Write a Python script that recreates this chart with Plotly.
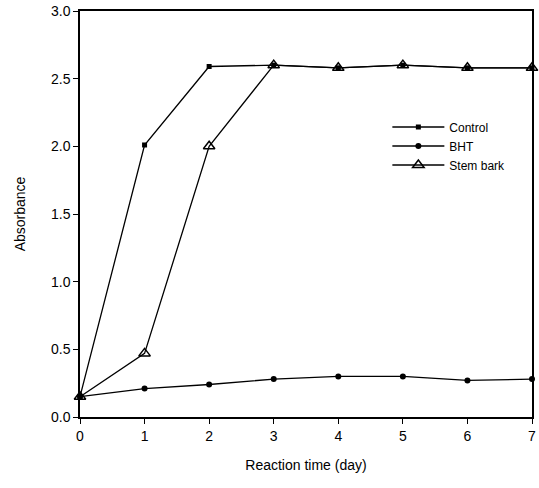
import plotly.graph_objects as go

days = [0, 1, 2, 3, 4, 5, 6, 7]
control = [0.15, 2.01, 2.59, 2.60, 2.58, 2.60, 2.58, 2.58]
bht = [0.15, 0.21, 0.24, 0.28, 0.30, 0.30, 0.27, 0.28]
stem_bark = [0.15, 0.47, 2.0, 2.60, 2.58, 2.60, 2.58, 2.58]

fig = go.Figure()
fig.add_trace(go.Scatter(x=days, y=bht, name="BHT", mode="lines+markers",
                         line=dict(color="black", width=1.3),
                         marker=dict(symbol="circle", size=6, color="black"),
                         cliponaxis=False, legendrank=2))
fig.add_trace(go.Scatter(x=days, y=control, name="Control", mode="lines+markers",
                         line=dict(color="black", width=1.3),
                         marker=dict(symbol="square", size=5, color="black"),
                         cliponaxis=False, legendrank=1))
fig.add_trace(go.Scatter(x=days, y=stem_bark, name="Stem bark", mode="lines+markers",
                         line=dict(color="black", width=1.3),
                         marker=dict(symbol="triangle-up-open", size=10, color="black",
                                     line=dict(width=1.5)),
                         cliponaxis=False, legendrank=3))

fig.update_layout(
    width=539, height=488,
    margin=dict(l=80, r=3, t=11, b=71),
    paper_bgcolor="white", plot_bgcolor="white",
    font=dict(family="Liberation Sans, Arial, sans-serif", size=14, color="black"),
    showlegend=True,
    legend=dict(x=0.68, y=0.75, xanchor="left", yanchor="top",
                traceorder="normal", bgcolor="rgba(255,255,255,0)",
                font=dict(size=12), itemwidth=52, tracegroupgap=0),
    xaxis=dict(range=[0, 7], tickmode="array", tickvals=days,
               ticks="outside", ticklen=5, tickwidth=1, tickcolor="black",
               showline=True, linecolor="black", linewidth=1.5, mirror=True,
               showgrid=False, zeroline=False,
               title=dict(text="Reaction time (day)", font=dict(size=14), standoff=18)),
    yaxis=dict(range=[0, 3.0], tickmode="array",
               tickvals=[0, 0.5, 1.0, 1.5, 2.0, 2.5, 3.0], tickformat=".1f",
               ticks="outside", ticklen=5, tickwidth=1, tickcolor="black",
               showline=True, linecolor="black", linewidth=1.5, mirror=True,
               showgrid=False, zeroline=False,
               title=dict(text="Absorbance", font=dict(size=14), standoff=22)),
)

fig.write_html("out.html", config={"displayModeBar": False},
               post_script="document.body.style.margin='0';")
